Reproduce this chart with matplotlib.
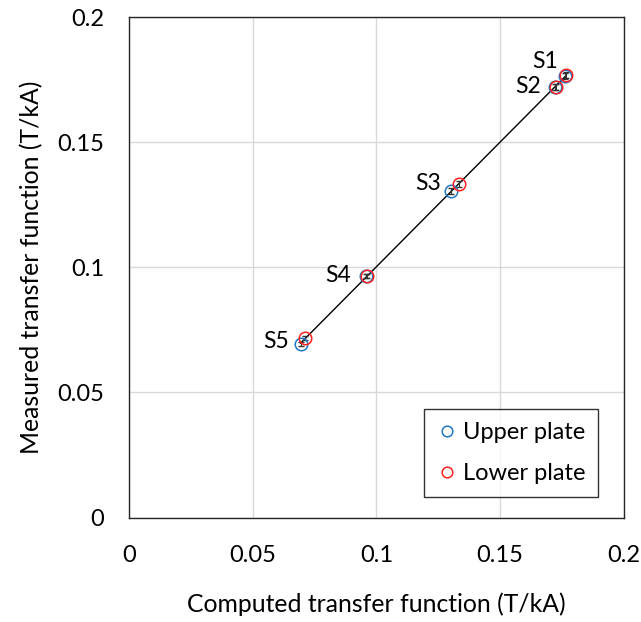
import numpy as np
import matplotlib.pyplot as plt

# === Data ===
sensors = ['S1', 'S2', 'S3', 'S4', 'S5']
upper_computed = [0.1764, 0.1722, 0.1302, 0.0958, 0.0693]
upper_measured = [0.1765, 0.1721, 0.1304, 0.0965, 0.0692]
lower_computed = [0.1767, 0.1727, 0.1334, 0.0960, 0.0711]
lower_measured = [0.1769, 0.1723, 0.1335, 0.0967, 0.0716]
measured_err = [0.0012, 0.0012, 0.0012, 0.0008, 0.0008]

# label offsets in pixels from the lower-plate marker
label_offsets = [(-21, 14), (-28, 0), (-31, 0), (-29, 0), (-29, -3)]

plt.rcParams['font.family'] = ['Lato', 'DejaVu Sans']

fig = plt.figure(figsize=(6.41, 6.22), dpi=100)
ax = fig.add_axes([0.202, 0.168, 0.7707, 0.804])

# fitted line through all points
all_x = np.array(upper_computed + lower_computed)
all_y = np.array(upper_measured + lower_measured)
slope, icpt = np.polyfit(all_x, all_y, 1)
xs = np.array([all_x.min(), all_x.max()])
ax.plot(xs, slope * xs + icpt, color='black', lw=1.0, zorder=2)

# error bars
ax.errorbar(upper_computed, upper_measured, yerr=measured_err, fmt='none',
            ecolor='#333333', elinewidth=0.8, capsize=2.5, zorder=3)
ax.errorbar(lower_computed, lower_measured, yerr=measured_err, fmt='none',
            ecolor='#333333', elinewidth=0.8, capsize=2.5, zorder=3)

ax.plot(upper_computed, upper_measured, 'o', ms=9, mfc='none', mec='#1f78c8',
        mew=1.1, label='Upper plate', zorder=4)
ax.plot(lower_computed, lower_measured, 'o', ms=9, mfc='none', mec='#ff2020',
        mew=1.1, label='Lower plate', zorder=5)

for name, x, y, off in zip(sensors, lower_computed, lower_measured, label_offsets):
    ax.annotate(name, (x, y), xytext=off, textcoords='offset pixels',
                ha='center', va='center', fontsize=16.5)

ax.set_xlim(0, 0.2)
ax.set_ylim(0, 0.2)
ticks = [0, 0.05, 0.1, 0.15, 0.2]
tick_labels = ['0', '0.05', '0.1', '0.15', '0.2']
ax.set_xticks(ticks, tick_labels)
ax.set_yticks(ticks, tick_labels)
ax.tick_params(length=0, labelsize=17)
ax.tick_params(axis='x', pad=20)
ax.tick_params(axis='y', pad=18)
ax.grid(True, color='#d9d9d9', lw=1.0)
ax.set_axisbelow(True)
for sp in ax.spines.values():
    sp.set_color('#262626')
    sp.set_linewidth(1.0)

ax.set_xlabel('Computed transfer function (T/kA)', fontsize=17.8, labelpad=19)
ax.set_ylabel('Measured transfer function (T/kA)', fontsize=17.8, labelpad=10)

leg = ax.legend(loc='lower right', bbox_to_anchor=(0.949, 0.041), fontsize=17,
                frameon=True, fancybox=False, edgecolor='black',
                handletextpad=0.2, handlelength=0.9, borderpad=0.55,
                labelspacing=0.85, markerscale=0.85, borderaxespad=0)
leg.get_frame().set_linewidth(1.0)

plt.savefig('out.png', dpi=100)
